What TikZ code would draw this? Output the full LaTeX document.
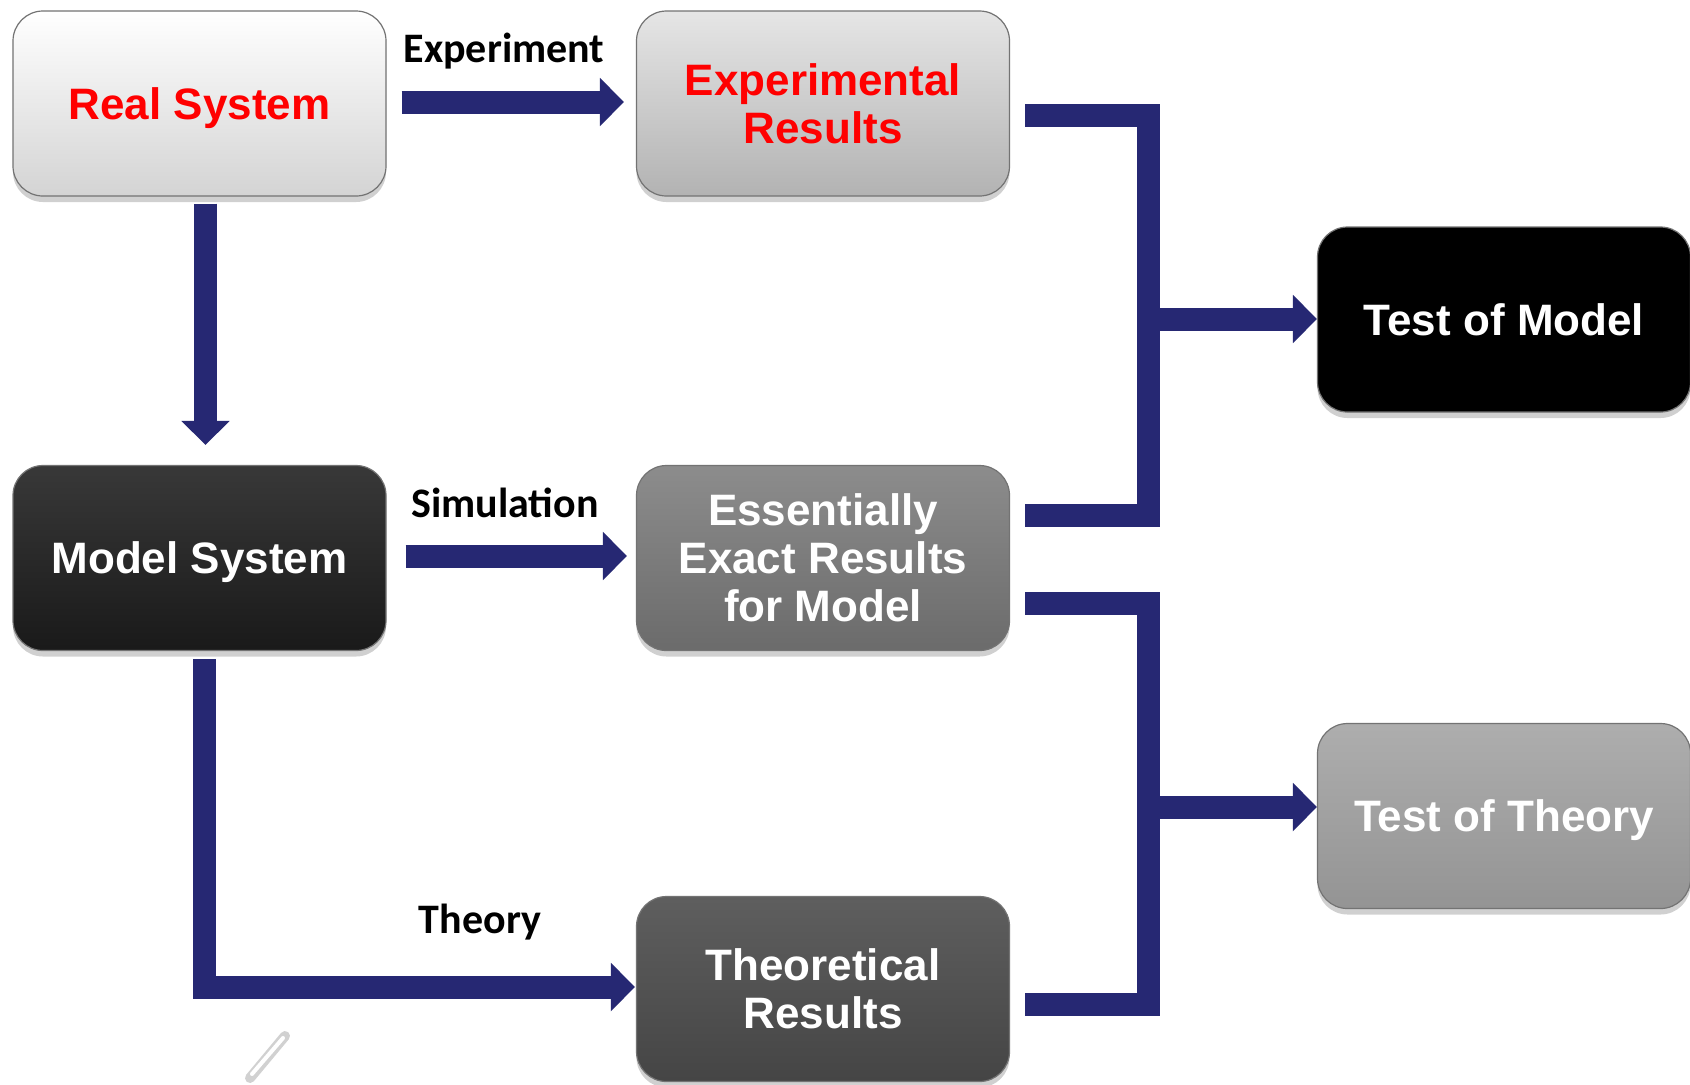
\documentclass[tikz,border=0pt]{standalone}
\usepackage{fontspec}
\setmainfont{Liberation Sans}
\newfontfamily\calib{Carlito}
\usetikzlibrary{arrows.meta,shadows}
\definecolor{navy}{RGB}{38,40,115}
\begin{document}
\begin{tikzpicture}[x=0.5pt,y=-0.5pt,
  box/.style={rounded corners=15pt, minimum width=186.5pt, minimum height=92.5pt,
    align=center, font=\fontsize{22}{24}\selectfont\bfseries, draw=black!55,
    line width=0.6pt, inner sep=0pt,
    drop shadow={shadow xshift=0pt,shadow yshift=-3pt,opacity=0.3,fill=black!60}},
  oneline/.style={text depth=0pt},
  lab/.style={font=\calib\bfseries\fontsize{21}{24}\selectfont, text depth=0pt},
  bar/.style={draw=navy, line width=11.5pt, line join=miter},
  arr/.style={bar, -{Triangle[length=12pt,width=23.5pt]}},
]
\useasboundingbox (0,0) rectangle (1690,1084);
\fill[white] (0,0) rectangle (1690,1084);

\node[box, oneline, top color=white, bottom color=black!17, text=red] (real) at (199.5,103.5) {Real System};
\node[box, top color=black!10, bottom color=black!30, text=red] (exp) at (823,103.5) {Experimental\\Results};
\node[box, oneline, top color=black!78, bottom color=black!90, text=white] (model) at (199.5,558) {Model System};
\node[box, top color=black!45, bottom color=black!58, text=white] (exact) at (823,558) {Essentially\\Exact Results\\for Model};
\node[box, top color=black!63, bottom color=black!73, text=white] (theo) at (823,989) {Theoretical\\Results};
\node[box, oneline, fill=black, text=white] (tmodel) at (1504,319.5) {Test of Model};
\node[box, oneline, top color=black!32, bottom color=black!42, text=white] (ttheory) at (1504,816) {Test of Theory};

\node[lab] (lexp) at (504,48) {Experiment};
\node[lab] (lsim) at (505,503) {Simulation};
\node[lab] (lthe) at (480,919) {Theory};

\coordinate (j1) at (1148,319);
\coordinate (j2) at (1148,807);

\draw[arr] ([xshift=7.5pt,yshift=0.75pt]real.east) -- ([xshift=-6pt,yshift=0.75pt]exp.west);
\draw[arr] ([xshift=3pt,yshift=-3.5pt]real.south) -- ([xshift=3pt,yshift=10pt]model.north);
\draw[arr] ([xshift=9.5pt,yshift=1pt]model.east) -- ([xshift=-4.5pt,yshift=1pt]exact.west);
\draw[arr] ([xshift=2.25pt,yshift=-4pt]model.south) |- ([xshift=-0.5pt,yshift=1pt]theo.west);

\draw[bar] ([xshift=7.5pt,yshift=-5.75pt]exp.east) -| (j1) |- ([xshift=7.5pt,yshift=21.5pt]exact.east);
\draw[arr] (j1) -- (tmodel.west |- j1);
\draw[bar] ([xshift=7.5pt,yshift=-22.75pt]exact.east) -| (j2) |- ([xshift=7.5pt,yshift=-7.75pt]theo.east);
\draw[arr] (j2) -- (ttheory.west |- j2);

\draw[line width=5pt, black!18, line cap=round] (250,1078) -- (285,1036);
\draw[line width=2pt, white, line cap=round] (252,1074) -- (283,1038);
\end{tikzpicture}
\end{document}
